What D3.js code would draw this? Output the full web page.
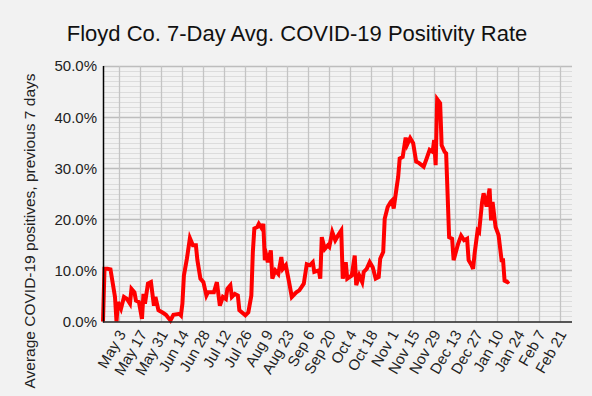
<!DOCTYPE html>
<html>
<head>
<meta charset="utf-8">
<script src="https://cdn.jsdelivr.net/npm/d3@7"></script>
<style>
  body { margin: 0; background: #f2f2f2; }
  svg { display: block; font-family: "Liberation Sans", Arial, sans-serif; }
</style>
</head>
<body>
<svg width="592" height="396"></svg>
<script>
// 7-day avg positivity (percent)
var dates = ["2020-04-22","2020-04-23","2020-04-25","2020-04-27","2020-04-30","2020-05-01","2020-05-02","2020-05-04",
  "2020-05-06","2020-05-08","2020-05-10","2020-05-11","2020-05-13","2020-05-14","2020-05-16","2020-05-18","2020-05-19",
  "2020-05-20","2020-05-22","2020-05-24","2020-05-26","2020-05-27","2020-05-29","2020-06-01","2020-06-03","2020-06-06",
  "2020-06-08","2020-06-12","2020-06-13","2020-06-14","2020-06-15","2020-06-17","2020-06-19","2020-06-21","2020-06-23",
  "2020-06-24","2020-06-26","2020-06-28","2020-06-30","2020-07-01","2020-07-05","2020-07-07","2020-07-09","2020-07-11",
  "2020-07-13","2020-07-14","2020-07-16","2020-07-17","2020-07-19","2020-07-21","2020-07-22","2020-07-26","2020-07-28",
  "2020-07-30","2020-07-31","2020-08-01","2020-08-03","2020-08-04","2020-08-06","2020-08-07","2020-08-08","2020-08-09",
  "2020-08-10","2020-08-12","2020-08-13","2020-08-15","2020-08-17","2020-08-19","2020-08-20","2020-08-22","2020-08-24",
  "2020-08-26","2020-08-29","2020-08-31","2020-09-03","2020-09-05","2020-09-07","2020-09-09","2020-09-10","2020-09-13",
  "2020-09-14","2020-09-15","2020-09-17","2020-09-19","2020-09-20","2020-09-22","2020-09-24","2020-09-26","2020-09-28",
  "2020-09-29","2020-10-01","2020-10-02","2020-10-05","2020-10-07","2020-10-08","2020-10-10","2020-10-12","2020-10-13",
  "2020-10-15","2020-10-17","2020-10-19","2020-10-21","2020-10-23","2020-10-24","2020-10-26","2020-10-27","2020-10-29",
  "2020-10-31","2020-11-01","2020-11-02","2020-11-04","2020-11-05","2020-11-06","2020-11-08","2020-11-10","2020-11-11",
  "2020-11-13","2020-11-15","2020-11-17","2020-11-19","2020-11-22","2020-11-24","2020-11-26","2020-11-28","2020-11-29",
  "2020-11-30","2020-12-01","2020-12-03","2020-12-04","2020-12-06","2020-12-07","2020-12-09","2020-12-11","2020-12-12",
  "2020-12-15","2020-12-17","2020-12-19","2020-12-21","2020-12-22","2020-12-24","2020-12-25","2020-12-26","2020-12-28",
  "2020-12-29","2020-12-31","2021-01-01","2021-01-03","2021-01-05","2021-01-06","2021-01-07","2021-01-09","2021-01-11",
  "2021-01-13","2021-01-14","2021-01-15","2021-01-17","2021-01-18"];
var rates = [0.0,10.3,10.3,10.2,4.8,0.0,3.8,2.5,
  4.8,4.4,3.5,6.4,5.7,4.1,3.8,0.5,5.4,
  3.5,7.4,7.7,3.1,4.8,2.2,1.7,1.3,0.2,
  1.3,1.5,1.2,3.5,9.0,12.3,16.3,14.9,14.9,
  12.0,8.4,7.7,5.1,5.7,5.7,7.7,3.1,4.8,
  4.4,6.4,7.1,4.8,5.4,5.1,2.2,1.2,1.8,
  5.1,13.6,18.2,18.5,19.1,18.2,19.1,12.0,12.9,
  11.6,13.9,8.4,10.0,9.3,12.6,10.3,11.0,8.0,
  4.8,5.7,6.1,7.4,11.2,11.0,11.6,9.7,10.0,
  8.4,16.5,14.2,14.9,14.6,17.5,15.9,16.9,17.8,
  8.4,11.6,8.4,9.0,12.9,7.1,9.0,7.7,9.7,
  10.3,11.6,10.6,8.4,8.7,12.3,13.6,20.1,22.4,
  23.4,23.7,22.1,26.3,28.3,31.9,32.2,36.0,34.6,
  35.9,34.9,31.3,31.0,30.3,31.9,33.6,33.2,35.5,
  30.6,43.5,42.7,34.5,33.2,32.9,16.5,16.2,12.0,
  15.2,16.8,15.9,16.2,12.0,11.0,10.3,13.3,17.8,
  17.5,23.4,25.1,22.5,26.0,19.8,23.4,18.5,16.9,
  12.0,12.0,8.0,7.7,7.9];

var tickDates = ["2020-05-03","2020-05-17","2020-05-31","2020-06-14","2020-06-28","2020-07-12","2020-07-26",
  "2020-08-09","2020-08-23","2020-09-06","2020-09-20","2020-10-04","2020-10-18","2020-11-01","2020-11-15",
  "2020-11-29","2020-12-13","2020-12-27","2021-01-10","2021-01-24","2021-02-07","2021-02-21"];
var tickLabels = ["May 3","May 17","May 31","Jun 14","Jun 28","Jul 12","Jul 26","Aug 9","Aug 23","Sep 6",
  "Sep 20","Oct 4","Oct 18","Nov 1","Nov 15","Nov 29","Dec 13","Dec 27","Jan 10","Jan 24","Feb 7","Feb 21"];

var svg = d3.select("svg"),
    width = +svg.attr("width"),
    height = +svg.attr("height");
var parse = d3.utcParse("%Y-%m-%d");
var plotLeft = 103, plotRight = 572, plotTop = 66, plotBottom = 321.5;

var x = d3.scaleUtc()
    .domain([parse("2020-04-22"), parse("2021-03-01")])
    .range([plotLeft, plotRight]);
var y = d3.scaleLinear()
    .domain([0, 50])
    .range([plotBottom, plotTop]);

var data = dates.map(function(d, i) { return {date: parse(d), v: rates[i]}; });

svg.append("rect").attr("width", width).attr("height", height).attr("fill", "#f2f2f2");

// minor horizontal grid every 1%
svg.append("g")
  .selectAll("line")
  .data(d3.range(1, 50).filter(function(d) { return d % 10; }))
  .enter().append("line")
    .attr("x1", plotLeft).attr("x2", plotRight)
    .attr("y1", function(d) { return Math.round(y(d)) + 0.5; })
    .attr("y2", function(d) { return Math.round(y(d)) + 0.5; })
    .attr("stroke", "#dcdcdc");

// major horizontal grid
svg.append("g")
  .selectAll("line")
  .data([10, 20, 30, 40, 50])
  .enter().append("line")
    .attr("x1", plotLeft).attr("x2", plotRight)
    .attr("y1", function(d) { return Math.round(y(d)) + 0.5; })
    .attr("y2", function(d) { return Math.round(y(d)) + 0.5; })
    .attr("stroke", "#bdbdbd")
    .attr("stroke-width", 1.3);

// vertical grid at ticks
svg.append("g")
  .selectAll("line")
  .data(tickDates)
  .enter().append("line")
    .attr("x1", function(d) { return Math.round(x(parse(d))) + 0.5; })
    .attr("x2", function(d) { return Math.round(x(parse(d))) + 0.5; })
    .attr("y1", plotTop).attr("y2", plotBottom)
    .attr("stroke", "#c4c4c4")
    .attr("stroke-width", 1.3);

var line = d3.line()
    .x(function(d) { return x(d.date); })
    .y(function(d) { return y(d.v); });

svg.append("path")
    .datum(data)
    .attr("d", line)
    .attr("fill", "none")
    .attr("stroke", "#ff0000")
    .attr("stroke-width", 4);

// axes lines
svg.append("line").attr("x1", plotLeft + 0.5).attr("x2", plotLeft + 0.5).attr("y1", plotTop).attr("y2", plotBottom + 1)
    .attr("stroke", "#000").attr("stroke-width", 1.5);
svg.append("line").attr("x1", plotLeft).attr("x2", plotRight).attr("y1", plotBottom + 0.5).attr("y2", plotBottom + 0.5)
    .attr("stroke", "#222").attr("stroke-width", 1.5);

// y tick labels
svg.append("g")
  .selectAll("text")
  .data([0, 10, 20, 30, 40, 50])
  .enter().append("text")
    .attr("x", 97)
    .attr("y", function(d) { return y(d); })
    .attr("dy", "0.36em")
    .attr("text-anchor", "end")
    .attr("font-size", "15px")
    .attr("fill", "#222")
    .text(function(d) { return d3.format(".1f")(d) + "%"; });

// x tick labels
svg.append("g")
  .selectAll("text")
  .data(tickDates)
  .enter().append("text")
    .attr("transform", function(d) { return "translate(" + (x(parse(d)) + 7) + ",334) rotate(-60)"; })
    .attr("text-anchor", "end")
    .attr("font-size", "15px")
    .attr("fill", "#222")
    .text(function(d, i) { return tickLabels[i]; });

svg.append("text")
    .attr("x", 297)
    .attr("y", 41)
    .attr("text-anchor", "middle")
    .attr("font-size", "22px")
    .attr("fill", "#111")
    .text("Floyd Co. 7-Day Avg. COVID-19 Positivity Rate");

svg.append("text")
    .attr("transform", "translate(35,231) rotate(-90)")
    .attr("text-anchor", "middle")
    .attr("font-size", "15.5px")
    .attr("fill", "#222")
    .text("Average COVID-19 positives, previous 7 days");
</script>
</body>
</html>
